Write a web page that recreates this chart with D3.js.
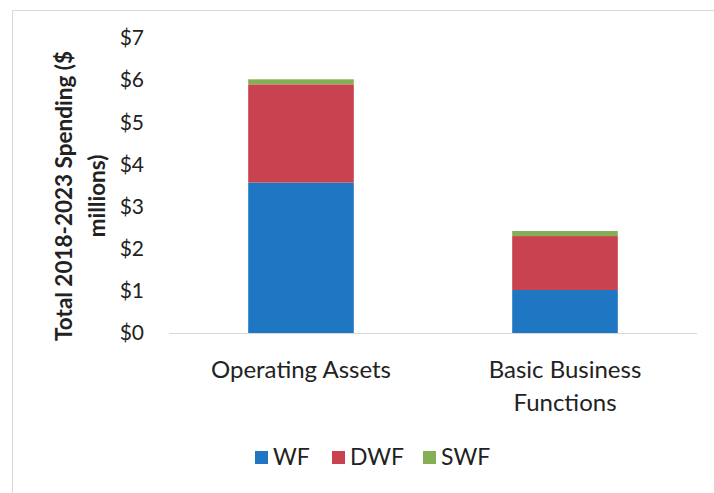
<!DOCTYPE html>
<html>
<head>
<meta charset="utf-8">
<script src="https://cdn.jsdelivr.net/npm/d3@7"></script>
<style>
  body { margin: 0; background: #fff; }
  text { font-family: Lato, "Open Sans", sans-serif; fill: #222; }
</style>
</head>
<body>
<div id="chart"></div>
<script>
// categorias e séries (em $ milhões)
const categories = ["Operating Assets", "Basic Business Functions"];
const seriesNames = ["WF", "DWF", "SWF"];
const wfValues = [3.57, 1.02];
const dwfValues = [2.33, 1.28];
const swfValues = [0.12, 0.12];
const yTicks = [0, 1, 2, 3, 4, 5, 6, 7];
const colors = ["#1f77c3", "#c8434f", "#86ae57"];

const width = 714;
const height = 493;
const margin = { left: 169, right: 17, top: 38, bottom: 160 };

const svg = d3.select("#chart")
  .append("svg")
  .attr("width", width)
  .attr("height", height);

// borda clara do quadro
svg.append("path")
  .attr("d", `M12.5,${height} V10.5 H${width}`)
  .attr("fill", "none")
  .attr("stroke", "#d9d9d9");

const rows = categories.map((c, i) => ({
  cat: c, WF: wfValues[i], DWF: dwfValues[i], SWF: swfValues[i]
}));
const stacked = d3.stack().keys(seriesNames)(rows);

const x = d3.scaleBand()
  .domain(categories)
  .range([margin.left, width - margin.right])
  .paddingInner(0.6)
  .paddingOuter(0.3);

const y = d3.scaleLinear()
  .domain([0, 7])
  .range([height - margin.bottom, margin.top]);

const color = d3.scaleOrdinal().domain(seriesNames).range(colors);

// barras empilhadas
svg.append("g")
  .selectAll("g")
  .data(stacked)
  .join("g")
  .attr("fill", d => color(d.key))
  .selectAll("rect")
  .data(d => d)
  .join("rect")
  .attr("x", d => x(d.data.cat))
  .attr("width", x.bandwidth())
  .attr("y", d => y(d[1]))
  .attr("height", d => y(d[0]) - y(d[1]));

// linha de base
svg.append("line")
  .attr("x1", margin.left).attr("x2", width - margin.right)
  .attr("y1", y(0) + 0.5).attr("y2", y(0) + 0.5)
  .attr("stroke", "#d9d9d9");

// eixo Y
const yAxis = svg.append("g")
  .attr("transform", `translate(144,0)`)
  .call(d3.axisLeft(y).tickValues(yTicks).tickSize(0).tickPadding(0).tickFormat(d => "$" + d));
yAxis.select(".domain").remove();
yAxis.selectAll("text")
  .style("font-size", "21px")
  .style("font-family", "Lato, sans-serif")
  .attr("fill", "#222");

// título do eixo Y (duas linhas)
const yTitle = svg.append("text")
  .attr("transform", `translate(0,196) rotate(-90)`)
  .attr("text-anchor", "middle")
  .style("font-size", "22.5px")
  .style("font-weight", "bold");
yTitle.append("tspan").attr("x", 0).attr("y", 72).text("Total 2018-2023 Spending ($");
yTitle.append("tspan").attr("x", 0).attr("y", 105).text("millions)");

// rótulos das categorias (quebra em duas linhas para o segundo)
const catLines = [["Operating Assets"], ["Basic Business", "Functions"]];
categories.forEach((c, i) => {
  const t = svg.append("text")
    .attr("text-anchor", "middle")
    .style("font-size", "24px");
  catLines[i].forEach((line, j) => {
    t.append("tspan")
      .attr("x", x(c) + x.bandwidth() / 2)
      .attr("y", 378 + j * 33)
      .text(line);
  });
});

// legenda
const legendX = [255, 332, 423];
const legend = svg.append("g")
  .selectAll("g")
  .data(seriesNames)
  .join("g")
  .attr("transform", (d, i) => `translate(${legendX[i]},451)`);
legend.append("rect")
  .attr("width", 13).attr("height", 13)
  .attr("fill", d => color(d));
legend.append("text")
  .attr("x", 18).attr("y", 14)
  .style("font-size", "23px")
  .text(d => d);
</script>
</body>
</html>
